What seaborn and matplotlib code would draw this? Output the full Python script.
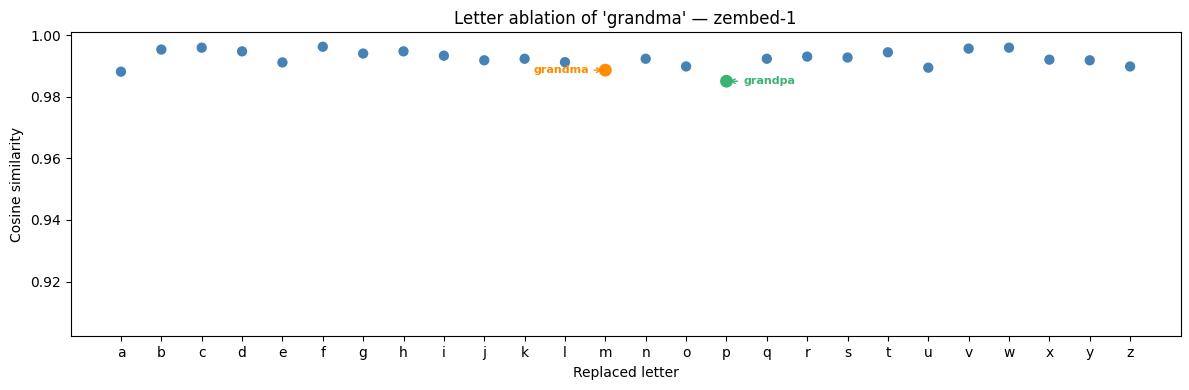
import matplotlib
matplotlib.use("Agg")
import matplotlib.pyplot as plt
import seaborn as sns
import pandas as pd
import numpy as np

# Datos
letters = list("abcdefghijklmnopqrstuvwxyz")
similarity = [0.9882, 0.9954, 0.9960, 0.9948, 0.9912, 0.9963, 0.9941, 0.9948, 0.9934,
              0.9919, 0.9924, 0.9913, 0.9887, 0.9924, 0.9899, 0.9851, 0.9924, 0.9931,
              0.9928, 0.9945, 0.9895, 0.9957, 0.9960, 0.9921, 0.9919, 0.9899]
highlights = {"m": ("grandma", "darkorange", "left"), "p": ("grandpa", "mediumseagreen", "right")}

df = pd.DataFrame({"letter": letters, "pos": np.arange(len(letters)), "sim": similarity})
normal = df[~df["letter"].isin(highlights.keys())]

fig, ax = plt.subplots(figsize=(11.89, 3.9), dpi=100)
sns.scatterplot(data=normal, x="pos", y="sim", color="steelblue", s=55, edgecolor="none", ax=ax)

for let, (word, col, side) in highlights.items():
    row = df[df["letter"] == let].iloc[0]
    sns.scatterplot(x=[row["pos"]], y=[row["sim"]], color=col, s=85, edgecolor="none", ax=ax, zorder=3)
    off = -12 if side == "left" else 12
    ax.annotate(word, xy=(row["pos"], row["sim"]), xytext=(off, 0), textcoords="offset points",
                ha="right" if side == "left" else "left", va="center",
                fontsize=8, fontweight="bold", color=col,
                arrowprops=dict(arrowstyle="->", color=col, lw=1))

ax.set_xticks(df["pos"])
ax.set_xticklabels(letters)
ax.set_xlim(-1.25, 26.25)
ax.set_ylim(0.9022, 1.001)
ax.set_yticks([0.92, 0.94, 0.96, 0.98, 1.00])
ax.set_xlabel("Replaced letter")
ax.set_ylabel("Cosine similarity")
ax.set_title("Letter ablation of 'grandma' — zembed-1")

plt.subplots_adjust(left=0.0593, right=0.9929, top=0.9172, bottom=0.1377)
plt.savefig("out.png", dpi=100)
plt.close()
